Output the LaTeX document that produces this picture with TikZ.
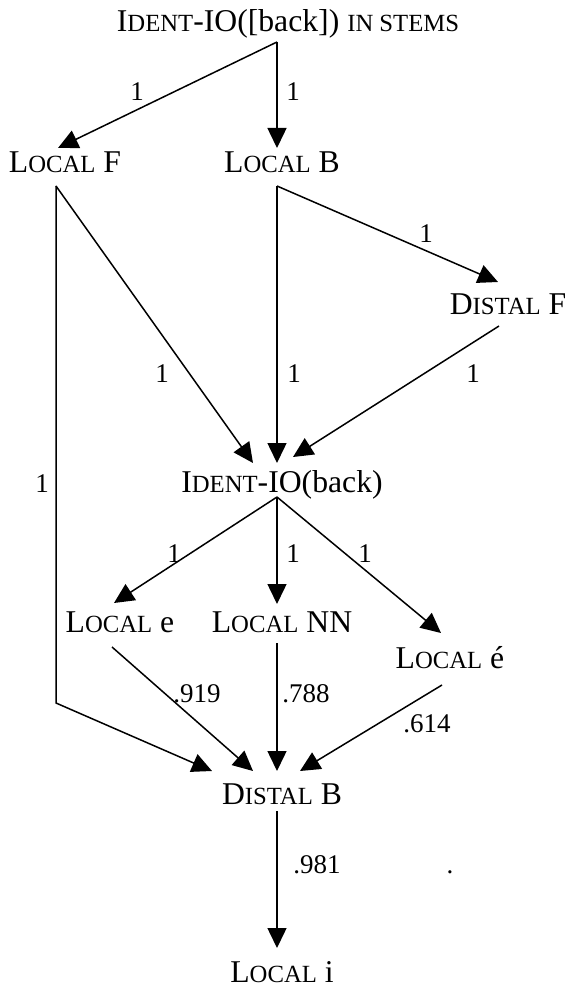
\documentclass[tikz,border=0pt]{standalone}
\usepackage{fontspec}
\setmainfont{Liberation Serif}
\usetikzlibrary{arrows.meta}
% scaled capitals standing in for small caps
\newcommand\smc[1]{{\fontsize{24.7pt}{26pt}\selectfont #1}}
\tikzset{
  constraint/.style={anchor=base, inner sep=0pt, font=\fontsize{31.7pt}{34pt}\selectfont},
  weight/.style={anchor=base, inner sep=0pt, font=\fontsize{27pt}{29pt}\selectfont},
  link/.style={line width=1.5pt, -{Triangle[length=20pt,width=19pt]}},
  plain/.style={line width=1.5pt}
}
\begin{document}
\begin{tikzpicture}[x=1pt,y=-1pt]
\useasboundingbox (0,0) rectangle (567,987);

% constraints
\node[constraint] (top) at (288,32)  {I\smc{DENT}-IO([back]) \smc{IN STEMS}};
\node[constraint] (lf)  at (65,173)  {L\smc{OCAL} F};
\node[constraint] (lb)  at (282,173) {L\smc{OCAL} B};
\node[constraint] (df)  at (508,314) {D\smc{ISTAL} F};
\node[constraint] (ib)  at (282,492) {I\smc{DENT}-IO(back)};
\node[constraint] (le)  at (120,632) {L\smc{OCAL} e};
\node[constraint] (nn)  at (282,632) {L\smc{OCAL} NN};
\node[constraint] (lea) at (450,668) {L\smc{OCAL} é};
\node[constraint] (db)  at (282,804) {D\smc{ISTAL} B};
\node[constraint] (li)  at (282,982) {L\smc{OCAL} i};

% rankings
\draw[link] ([shift={(-11,10)}]top.base) -- ([shift={(-7,-25)}]lf.base);
\draw[link] ([shift={(-11,10)}]top.base) -- ([shift={(-5,-25)}]lb.base);
\draw[link] ([shift={(-5,13)}]lb.base) -- ([shift={(-10,-32)}]df.base);
\draw[link] ([shift={(-9,13)}]lf.base) -- ([shift={(-29,-29)}]ib.base);
\draw[link] ([shift={(-5,13)}]lb.base) -- ([shift={(-5,-29)}]ib.base);
\draw[link] ([shift={(-9,12)}]df.base) -- ([shift={(11,-35)}]ib.base);
\draw[link] ([shift={(-5,5)}]ib.base) -- ([shift={(-6,-29)}]le.base);
\draw[link] ([shift={(-5,5)}]ib.base) -- ([shift={(-5,-28)}]nn.base);
\draw[link] ([shift={(-5,5)}]ib.base) -- ([shift={(-9,-35)}]lea.base);
\draw[link] ([shift={(-9,13)}]lf.base) -- ++(0,517) -- ([shift={(-70,-33)}]db.base);
\draw[link] ([shift={(-8,15)}]le.base) -- ([shift={(-29,-33)}]db.base);
\draw[link] ([shift={(-5,11)}]nn.base) -- ([shift={(-5,-33)}]db.base);
\draw[link] ([shift={(-8,17)}]lea.base) -- ([shift={(18,-33)}]db.base);
\draw[link] ([shift={(-5,7)}]db.base) -- ([shift={(-5,-34)}]li.base);

% weights
\node[weight] (w1)  at (137,101) {1};
\node[weight] (w2)  at (293,101) {1};
\node[weight] (w3)  at (426,242) {1};
\node[weight] (w4)  at (162,382) {1};
\node[weight] (w5)  at (294,382) {1};
\node[weight] (w6)  at (473,382) {1};
\node[weight] (w7)  at (42,492)  {1};
\node[weight] (w8)  at (174,562) {1};
\node[weight] (w9)  at (293,562) {1};
\node[weight] (w10) at (365,562) {1};
\node[weight] (w11) at (197,702) {.919};
\node[weight] (w12) at (306,702) {.788};
\node[weight] (w13) at (427,732) {.614};
\node[weight] (w14) at (317,873) {.981};
\node[weight] (dot) at (450,873) {.};
\end{tikzpicture}
\end{document}
